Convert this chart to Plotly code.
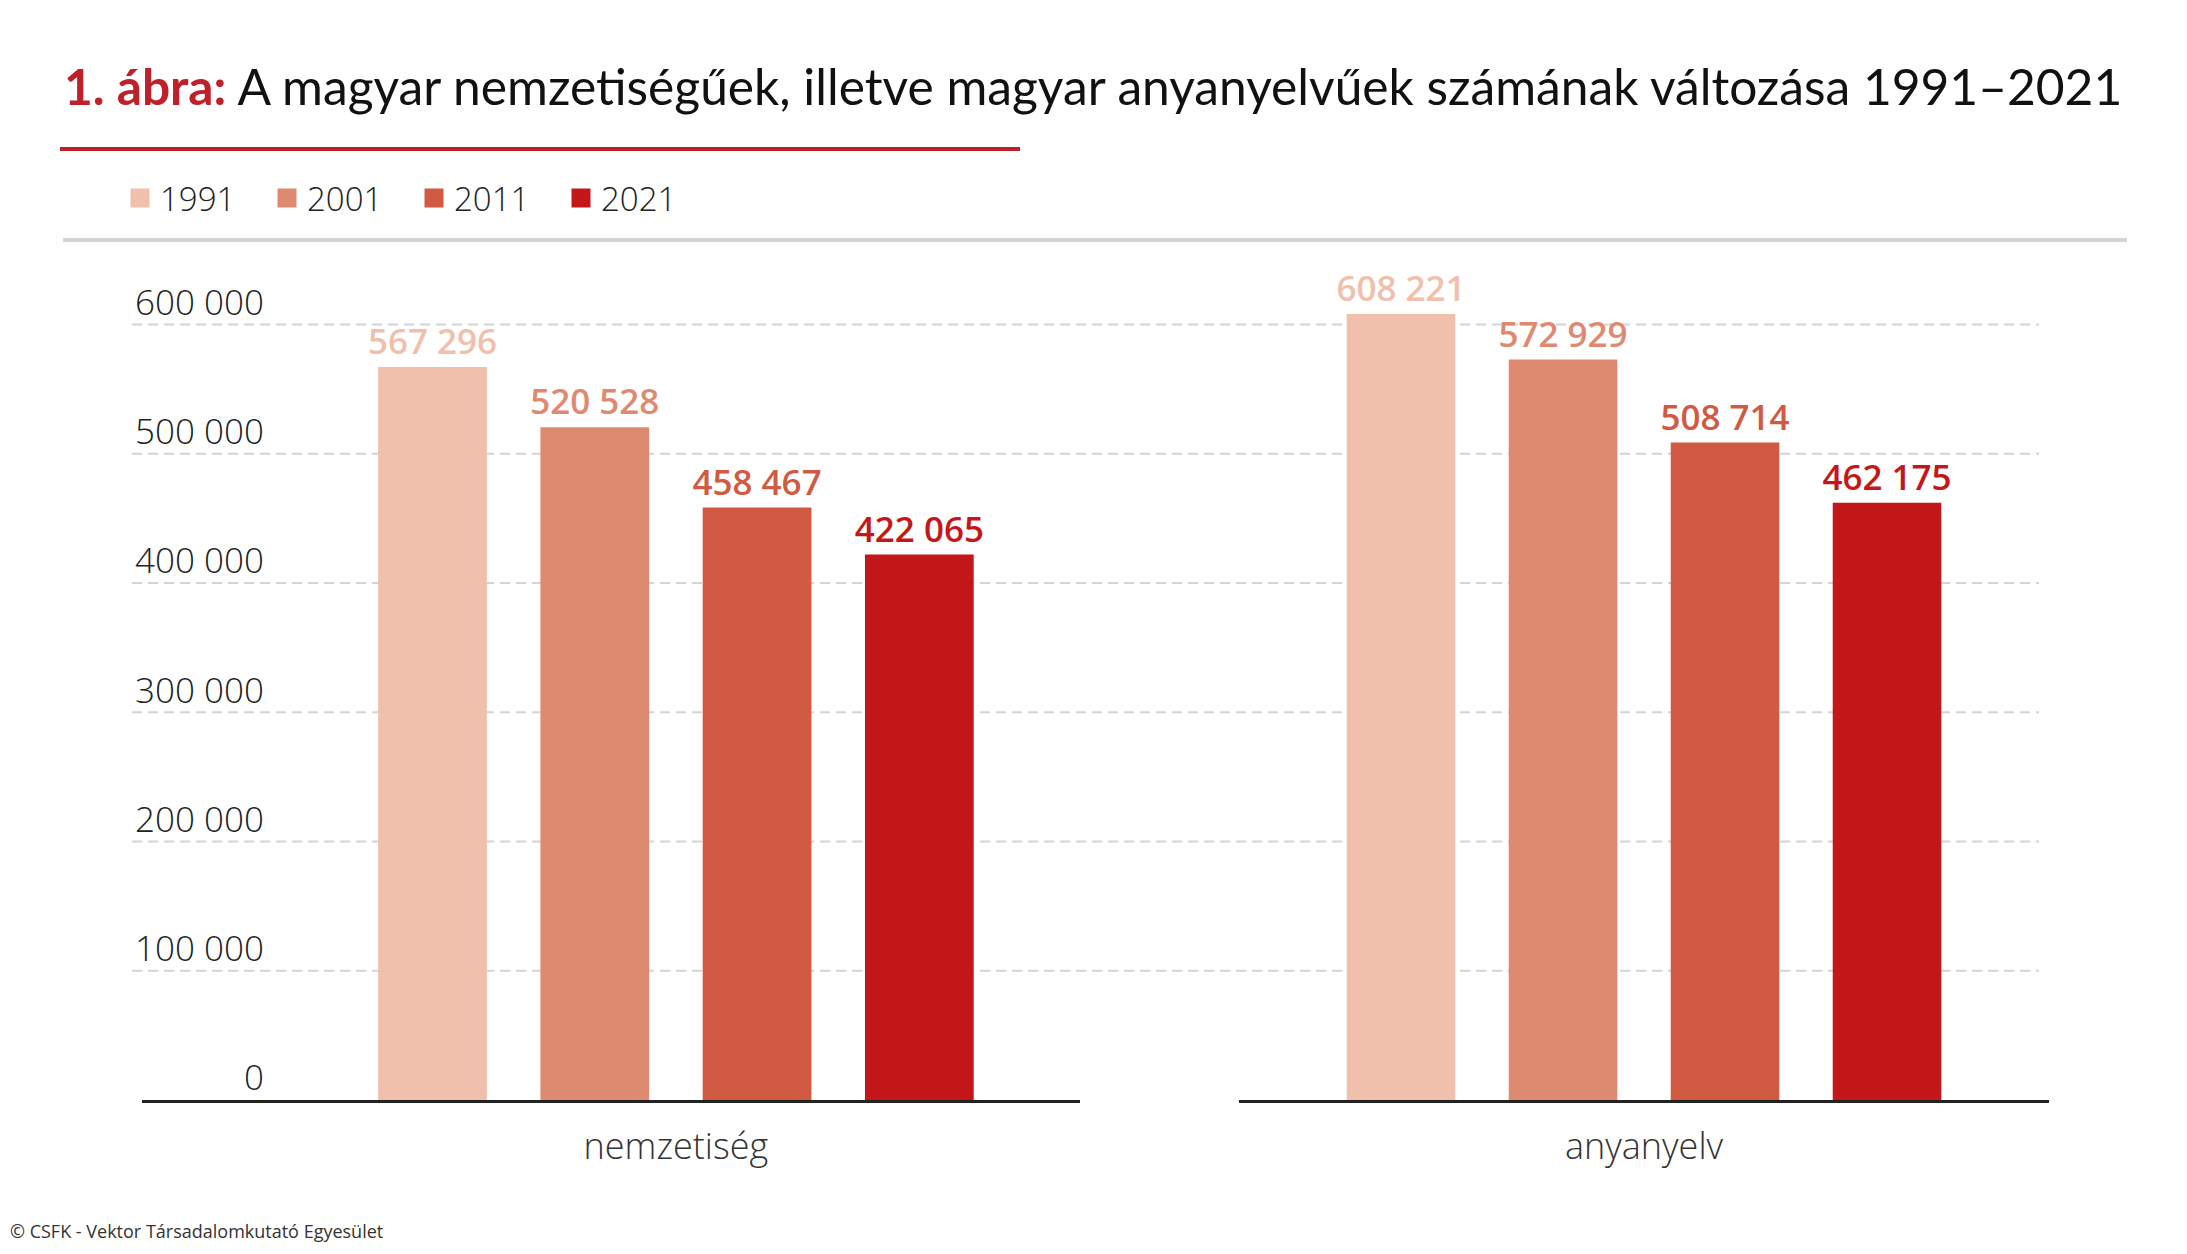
import plotly.graph_objects as go

# data
categories = ["nemzetiség", "anyanyelv"]
years = ["1991", "2001", "2011", "2021"]
nemzetiseg = [567296, 520528, 458467, 422065]
anyanyelv = [608221, 572929, 508714, 462175]
colors = ["#F0C0AD", "#DE8A70", "#D05A42", "#C4171A"]
y_ticks = [0, 100000, 200000, 300000, 400000, 500000, 600000]

title_red = "1. ábra:"
title_rest = "A magyar nemzetiségűek, illetve magyar anyanyelvűek számának változása 1991–2021"
footer = "© CSFK - Vektor Társadalomkutató Egyesület"

# the page body keeps its 8px margin, so the figure is the window minus 16px
OFF = 8
W, H = 2187 - 2 * OFF, 1254 - 2 * OFF


def px(x):
    return (x - OFF) / W


def py(y):
    return 1 - (y - OFF) / H


fig = go.Figure()

# bars: left panel = nemzetiség, right panel = anyanyelv
for i, year in enumerate(years):
    for ax, cat, vals in (("", categories[0], nemzetiseg), ("2", categories[1], anyanyelv)):
        fig.add_trace(go.Bar(
            x=[cat], y=[vals[i]],
            xaxis="x" + ax, yaxis="y" + ax,
            name=year, legendgroup=year, showlegend=False,
            marker=dict(color=colors[i], line_width=0),
            texttemplate="%{y:,}", textposition="outside",
            constraintext="none", cliponaxis=False,
            textfont=dict(family="Open Sans", size=35, color=colors[i], weight=600),
            hovertemplate="%{x} " + year + ": %{y:,}<extra></extra>",
        ))

# legend entries (bigger squares than the bar legend symbol)
for i, year in enumerate(years):
    fig.add_trace(go.Scatter(
        x=[None], y=[None], mode="markers", name=year, legendgroup=year,
        marker=dict(symbol="square", size=16, color=colors[i],
                    line=dict(width=3, color=colors[i])),
    ))

axis_x = dict(
    type="category", showline=True, linecolor="#222", linewidth=3,
    ticks="outside", ticklen=13, tickcolor="rgba(0,0,0,0)",
    tickfont=dict(family="Open Sans", size=36, color="#333", weight=300),
    showgrid=False, zeroline=False, fixedrange=True,
)

shapes = []
# dashed gridlines across both panels
for v in y_ticks[1:]:
    shapes.append(dict(type="line", xref="paper", yref="y", x0=px(132), x1=px(2039),
                       y0=v, y1=v, layer="below",
                       line=dict(color="#d4d4d4", width=2, dash="10px,6px")))
# red rule under the title and grey rule under the legend
shapes.append(dict(type="line", xref="paper", yref="paper", x0=px(60), x1=px(1020),
                   y0=py(149), y1=py(149), line=dict(color="#C0202A", width=4)))
shapes.append(dict(type="line", xref="paper", yref="paper", x0=px(63), x1=px(2127),
                   y0=py(240), y1=py(240), line=dict(color="#d4d4d4", width=4)))

fig.update_layout(
    width=W, height=H,
    margin=dict(l=0, r=0, t=0, b=0),
    paper_bgcolor="white", plot_bgcolor="rgba(0,0,0,0)",
    barmode="group", bargap=0.2, bargroupgap=0.33,
    separators=", ",
    font=dict(family="Open Sans", color="#222"),
    xaxis=dict(axis_x, domain=[px(142), px(1080)], range=[-0.658, 0.498], anchor="y"),
    xaxis2=dict(axis_x, domain=[px(1239), px(2049)], range=[-0.5, 0.5], anchor="y2"),
    yaxis=dict(
        domain=[py(1100), py(260)], range=[0, 650000],
        anchor="free", position=px(264),
        tickvals=y_ticks, tickformat=",",
        showgrid=False, zeroline=False, showline=False,
        ticklabelshift=-22,
        tickfont=dict(family="Open Sans", size=35, color="#222", weight=300),
        fixedrange=True,
    ),
    yaxis2=dict(domain=[py(1100), py(260)], range=[0, 650000], anchor="x2",
                visible=False, fixedrange=True),
    legend=dict(
        orientation="h", x=px(120), y=py(198), xanchor="left", yanchor="middle",
        font=dict(family="Open Sans", size=33, color="#222", weight=300),
        entrywidth=102, bgcolor="rgba(0,0,0,0)",
    ),
    shapes=shapes,
    annotations=[
        dict(xref="paper", yref="paper", x=px(62), y=py(86), xanchor="left", yanchor="middle",
             showarrow=False,
             text="<b><span style='color:#C0202A'>" + title_red + "</span></b> " + title_rest,
             font=dict(family="Lato", size=49.7, color="#111")),
        dict(xref="paper", yref="paper", x=px(8), y=py(1231), xanchor="left", yanchor="middle",
             showarrow=False, text=footer,
             font=dict(family="Open Sans", size=18, color="#333")),
    ],
)

fig.write_html("out.html")
